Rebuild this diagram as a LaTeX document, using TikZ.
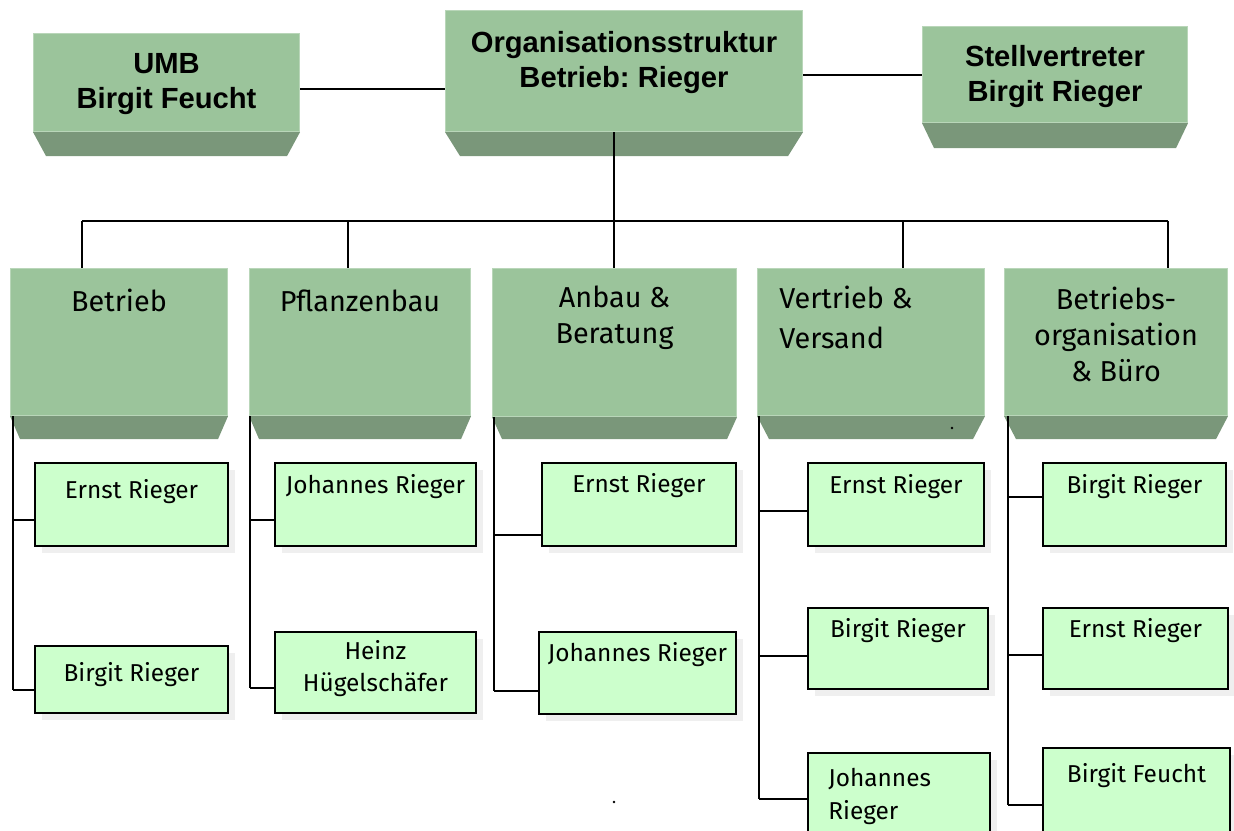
\documentclass[tikz,border=0pt]{standalone}
\usepackage{fontspec}
\usepackage{tikz}
\usetikzlibrary{shadows}

\newfontfamily\headsans{Liberation Sans}
\newfontfamily\bodysans{Fira Sans}
\newcommand{\px}{0.02cm}
\frenchspacing

\definecolor{facegreen}{HTML}{9BC49B}
\definecolor{shadegreen}{HTML}{7A977A}
\definecolor{leafgreen}{HTML}{CCFFCC}

\begin{document}
\begin{tikzpicture}[x=0.02cm, y=-0.02cm,
    face/.style={draw=facegreen!70!white, fill=facegreen, line width=0.6pt,
        anchor=north west, inner sep=0pt},
    headtext/.style={font=\headsans\bfseries\fontsize{16.6pt}{19.8pt}\selectfont,
        align=center, anchor=north, inner sep=0pt},
    unittext/.style={font=\bodysans\fontsize{16.4pt}{20.4pt}\selectfont,
        align=center, anchor=north, inner sep=0pt},
    member/.style={draw, line width=1.1pt, fill=leafgreen, anchor=north west,
        inner sep=0pt, drop shadow={shadow xshift=4pt, shadow yshift=-4pt, fill=black!12}},
    membertext/.style={font=\bodysans\fontsize{13.9pt}{18.5pt}\selectfont,
        align=center, anchor=north, inner sep=0pt},
    link/.style={line width=0.8pt}]

    \useasboundingbox (0,0) rectangle (1234,831);
    \clip (0,0) rectangle (1234,831);

    % -------------------------
    % Top row
    % -------------------------
    \node[face, minimum width=266*\px, minimum height=98*\px,
        label={[headtext, yshift=-20*\px]north:UMB\\Birgit Feucht}] (umb) at (33,33) {};
    \node[face, minimum width=357*\px, minimum height=121*\px,
        label={[headtext, yshift=-21*\px]north:Organisationsstruktur\\Betrieb: Rieger}] (org) at (445,10) {};
    \node[face, minimum width=265*\px, minimum height=96*\px,
        label={[headtext, yshift=-19*\px]north:Stellvertreter\\Birgit Rieger}] (stell) at (922,26) {};

    % -------------------------
    % Departments
    % -------------------------
    \node[face, minimum width=217*\px, minimum height=147*\px,
        label={[unittext, yshift=-21*\px]north:Betrieb}] (betrieb) at (10,268) {};
    \node[face, minimum width=221*\px, minimum height=147*\px,
        label={[unittext, yshift=-22*\px]north:Pflanzenbau}] (pflanz) at (249,268) {};
    \node[face, minimum width=244*\px, minimum height=148*\px,
        label={[unittext, yshift=-18*\px]north:Anbau \&\\Beratung}] (anbau) at (492,268) {};
    \node[face, minimum width=227*\px, minimum height=147*\px,
        label={[unittext, align=left, anchor=north west, xshift=22*\px, yshift=-18*\px]north west:Vertrieb \&\\[2pt]Versand}] (vertrieb) at (757,268) {};
    \node[face, minimum width=223*\px, minimum height=147*\px,
        label={[unittext, yshift=-19*\px]north:Betriebs-\\organisation\\\& Büro}] (orgbuero) at (1004,268) {};

    % bottom bevel of the green boxes
    \foreach \n/\d/\i in {umb/24/13, org/24/15, stell/25/12, betrieb/23/10,
        pflanz/23/10, anbau/22/10, vertrieb/23/12, orgbuero/23/12}
        \fill[shadegreen] (\n.south west) -- (\n.south east)
            -- ([shift={(-\i,\d)}]\n.south east) -- ([shift={(\i,\d)}]\n.south west) -- cycle;

    % -------------------------
    % Members
    % -------------------------
    \node[member, minimum width=193*\px, minimum height=83*\px,
        label={[membertext, yshift=-17*\px]north:Ernst Rieger}] (c1a) at (34,462) {};
    \node[member, minimum width=193*\px, minimum height=67*\px,
        label={[membertext, yshift=-17*\px]north:Birgit Rieger}] (c1b) at (34,645) {};

    \node[member, minimum width=201*\px, minimum height=83*\px,
        label={[membertext, yshift=-12*\px]north:Johannes Rieger}] (c2a) at (274,462) {};
    \node[member, minimum width=201*\px, minimum height=81*\px,
        label={[membertext, yshift=-9*\px]north:Heinz\\Hügelschäfer}] (c2b) at (274,631) {};

    \node[member, minimum width=194*\px, minimum height=83*\px,
        label={[membertext, yshift=-11*\px]north:Ernst Rieger}] (c3a) at (541,462) {};
    \node[member, minimum width=197*\px, minimum height=82*\px,
        label={[membertext, yshift=-11*\px]north:Johannes Rieger}] (c3b) at (538,631) {};

    \node[member, minimum width=176*\px, minimum height=83*\px,
        label={[membertext, yshift=-12*\px]north:Ernst Rieger}] (c4a) at (807,462) {};
    \node[member, minimum width=180*\px, minimum height=81*\px,
        label={[membertext, yshift=-11*\px]north:Birgit Rieger}] (c4b) at (807,607) {};
    \node[member, minimum width=182*\px, minimum height=100*\px,
        label={[membertext, align=left, anchor=north west, xshift=21*\px, yshift=-16*\px]north west:Johannes\\Rieger}] (c4c) at (807,752) {};

    \node[member, minimum width=183*\px, minimum height=83*\px,
        label={[membertext, yshift=-12*\px]north:Birgit Rieger}] (c5a) at (1042,462) {};
    \node[member, minimum width=185*\px, minimum height=81*\px,
        label={[membertext, yshift=-11*\px]north:Ernst Rieger}] (c5b) at (1042,607) {};
    \node[member, minimum width=187*\px, minimum height=100*\px,
        label={[membertext, yshift=-16*\px]north:Birgit Feucht}] (c5c) at (1042,747) {};

    % -------------------------
    % Connectors
    % -------------------------
    \draw[link] (umb.east |- 0,89) -- (org.west |- 0,89);
    \draw[link] (org.east |- 0,75) -- (stell.west |- 0,75);

    \coordinate (bus) at (614,221);
    \draw[link] (bus |- org.south) -- (bus);
    \draw[link] (82,221) -- (1168,221);
    \foreach \n/\x in {betrieb/82, pflanz/348, anbau/614, vertrieb/903, orgbuero/1168}
        \draw[link] (\x,221) -- (\x,0 |- \n.north);

    % vertical bars under the departments
    \foreach \n/\x/\e in {betrieb/13/690, pflanz/250/688, anbau/494/691,
        vertrieb/759/799, orgbuero/1008/805}
        \draw[link] (\x,0 |- \n.south) -- (\x,\e);

    % branches to the members
    \foreach \m/\x/\y in {c1a/13/520, c1b/13/690, c2a/250/520, c2b/250/688,
        c3a/494/535, c3b/494/691, c4a/759/511, c4b/759/656, c4c/759/799,
        c5a/1008/497, c5b/1008/655, c5c/1008/805}
        \draw[link] (\x,\y) -- (\m.west |- 0,\y);

    % stray dots
    \fill (952,428) circle (1.3*\px);
    \fill (614,802) circle (1.3*\px);

\end{tikzpicture}
\end{document}
